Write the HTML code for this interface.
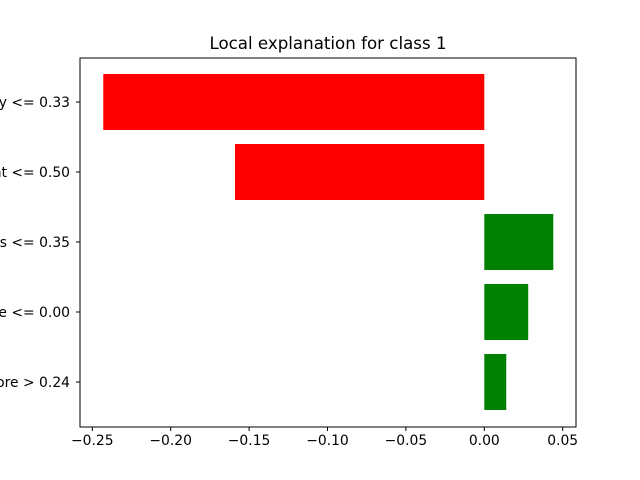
<!DOCTYPE html>
<html><head><meta charset="utf-8"><style>body{margin:0;background:#fff}svg{display:block}</style></head>
<body>
<svg id="c" width="640" height="480" xmlns="http://www.w3.org/2000/svg" font-family="DejaVu Sans, Liberation Sans, sans-serif">
<rect width="640" height="480" fill="#fff"/>
<text x="328" y="49" font-size="16.67" text-anchor="middle">Local explanation for class 1</text>
<g id="bars"></g>
<g id="axes"></g>
<rect x="80" y="58" width="496" height="369" fill="none" stroke="#000" stroke-width="1"/>
</svg>
<script>
const labels = ["y <= 0.33","nt <= 0.50","s <= 0.35","e <= 0.00","ore > 0.24"];
const values = [-0.243,-0.159,0.044,0.028,0.014];
const xTicks = [-0.25,-0.20,-0.15,-0.10,-0.05,0.00,0.05];
const xTickLabels = ["\u22120.25","\u22120.20","\u22120.15","\u22120.10","\u22120.05","0.00","0.05"];

const NS="http://www.w3.org/2000/svg";
function xs(v){return 484.3+v*1568;}
function yc(i){return 102+70*i;}
const bars=document.getElementById('bars'), axes=document.getElementById('axes');
values.forEach((v,i)=>{
  const r=document.createElementNS(NS,'rect');
  r.setAttribute('x',Math.min(xs(0),xs(v)));
  r.setAttribute('width',Math.abs(xs(v)-xs(0)));
  r.setAttribute('y',yc(i)-28);
  r.setAttribute('height',56);
  r.setAttribute('fill',v<0?'#ff0000':'#008000');
  
  
  bars.appendChild(r);
  const t=document.createElementNS(NS,'line');
  t.setAttribute('x1',76);t.setAttribute('x2',80);
  t.setAttribute('y1',yc(i));t.setAttribute('y2',yc(i));
  t.setAttribute('stroke','#000');
  
  
  axes.appendChild(t);
  const l=document.createElementNS(NS,'text');
  l.setAttribute('x',70);l.setAttribute('y',yc(i)+5);
  l.setAttribute('font-size','13.9');l.setAttribute('text-anchor','end');
  l.textContent=labels[i];
  
  
  axes.appendChild(l);
});
xTicks.forEach((v,i)=>{
  const t=document.createElementNS(NS,'line');
  t.setAttribute('x1',xs(v));t.setAttribute('x2',xs(v));
  t.setAttribute('y1',427);t.setAttribute('y2',431);
  t.setAttribute('stroke','#000');
  
  
  axes.appendChild(t);
  const l=document.createElementNS(NS,'text');
  l.setAttribute('x',xs(v));l.setAttribute('y',445);
  l.setAttribute('font-size','13.9');l.setAttribute('text-anchor','middle');
  l.textContent=xTickLabels[i];
  
  
  axes.appendChild(l);
});
</script>
</body></html>
